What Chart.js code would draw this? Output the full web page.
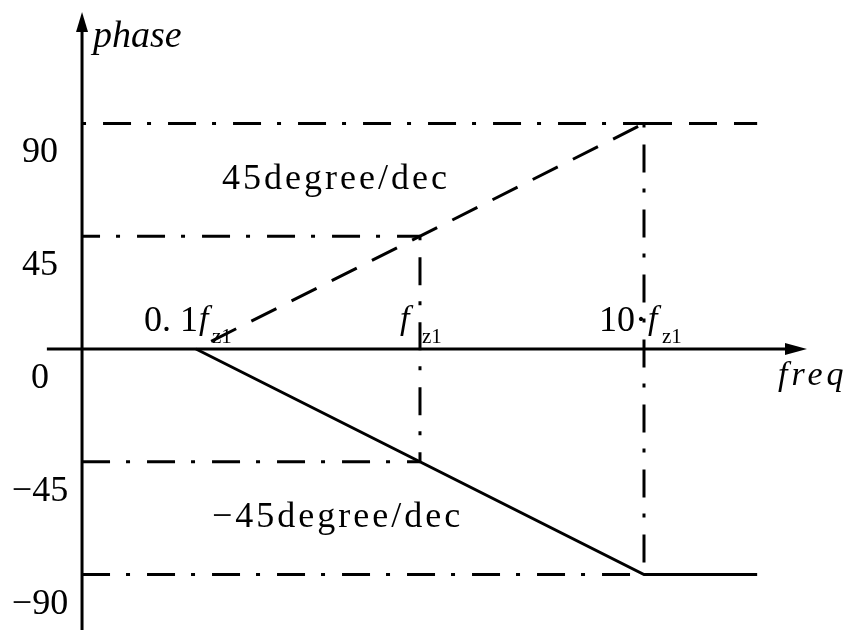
<!DOCTYPE html>
<html><head><meta charset="utf-8">
<script src="https://cdn.jsdelivr.net/npm/chart.js@4.4.0/dist/chart.umd.min.js"></script>
<style>html,body{margin:0;padding:0;background:#fff;}#wrap{width:857px;height:630px;position:relative;}</style>
</head><body><div id="wrap"><canvas id="c"></canvas></div>
<script>
// ---- data ----
const freqTicks = [0.1, 1, 10];                 // 0.1·fz1, fz1, 10·fz1
const freqTickPre = ['0. 1', '', '10·'];
const freqTickMain = ['f', 'f', 'f'];
const freqTickSub = ['z1', 'z1', 'z1'];
const phaseTicks = [90, 45, 0, -45, -90];
const phaseTickLabels = ['90', '45', '0', '−45', '−90'];
const freqStart = 0.031, freqEnd = 32;
const leadFreq = [0.1, 10, 32];
const leadPhase = [0, 90, 90];
const lagFreq = [0.1, 10, 32];
const lagPhase = [0, -90, -90];
const guideLevels = [90, 45, -45, -90];
const guideEndFreq = [10, 1, 1, 10];
const markerFreq = [1, 10];
const markerTop = [45, 90];
const markerBottom = [-45, -90];
const slopeLabels = ['45degree/dec', '−45degree/dec'];
const axisTitles = ['phase', 'freq'];

// ---- styling / layout ----
const INK = '#000';
const DASHDOT = [28, 16, 4, 17];
const guideOffsets = [44, 10, 0, 0];
const xAxisFrom = 0.0216, xAxisTip = 53.4, yAxisTip = 134.5;
const SERIF = '"Liberation Serif", "Times New Roman", serif';

const pts = (xs, ys) => xs.map((x, i) => ({x, y: ys[i]}));
const datasets = [];
guideLevels.forEach((lv, i) => datasets.push({
  data: [{x: freqStart, y: lv}, {x: guideEndFreq[i], y: lv}],
  borderColor: INK, borderWidth: 3, borderDash: DASHDOT, borderDashOffset: guideOffsets[i]
}));
markerFreq.forEach((f, i) => datasets.push({
  data: [{x: f, y: markerTop[i]}, {x: f, y: markerBottom[i]}],
  borderColor: INK, borderWidth: 3, borderDash: DASHDOT, borderDashOffset: 44
}));
datasets.push({
  data: pts(leadFreq, leadPhase), borderColor: INK, borderWidth: 3,
  borderDash: [28, 17],
  segment: {borderDashOffset: c => c.p0DataIndex === 0 ? 28 : 0}
});
datasets.push({data: pts(lagFreq, lagPhase), borderColor: INK, borderWidth: 3});
datasets.forEach(d => { d.showLine = true; d.pointRadius = 0; d.fill = false; d.tension = 0; });

const drawPlugin = {
  id: 'phaseDecor',
  afterDatasetsDraw(chart) {
    const ctx = chart.ctx, xs = chart.scales.x, ys = chart.scales.y;
    const X = v => xs.getPixelForValue(v), Y = v => ys.getPixelForValue(v);
    ctx.save();
    ctx.strokeStyle = INK; ctx.fillStyle = INK; ctx.lineWidth = 3; ctx.setLineDash([]);
    // axes
    const ax = X(freqStart), ay0 = Y(0);
    const xTip = X(xAxisTip), yTip = Y(yAxisTip);
    ctx.beginPath(); ctx.moveTo(X(xAxisFrom), ay0); ctx.lineTo(xTip - 14, ay0); ctx.stroke();
    ctx.beginPath(); ctx.moveTo(ax, chart.chartArea.bottom); ctx.lineTo(ax, yTip + 14); ctx.stroke();
    ctx.beginPath(); ctx.moveTo(xTip, ay0); ctx.lineTo(xTip - 22, ay0 - 6); ctx.lineTo(xTip - 22, ay0 + 6); ctx.closePath(); ctx.fill();
    ctx.beginPath(); ctx.moveTo(ax, yTip); ctx.lineTo(ax - 6, yTip + 20); ctx.lineTo(ax + 6, yTip + 20); ctx.closePath(); ctx.fill();

    // y tick labels
    ctx.font = '36px ' + SERIF; ctx.textAlign = 'center'; ctx.textBaseline = 'alphabetic';
    phaseTicks.forEach((v, i) => ctx.fillText(phaseTickLabels[i], 40, Y(v) + 39));

    // x tick labels: [pre right edge, f left, sub left] relative to tick pixel
    const lay = [[2, 3, 16], [0, -20, 2], [3, 4, 18]];
    freqTicks.forEach((f, i) => {
      const p = X(f), base = ay0 - 18;
      if (freqTickPre[i]) {
        ctx.font = '36px ' + SERIF; ctx.textAlign = 'right';
        ctx.fillText(freqTickPre[i], p + lay[i][0], base);
      }
      ctx.font = 'italic 34px ' + SERIF; ctx.textAlign = 'left';
      ctx.fillText(freqTickMain[i], p + lay[i][1], base - 2);
      ctx.font = '21px ' + SERIF;
      ctx.fillText(freqTickSub[i], p + lay[i][2], ay0 - 6);
    });

    // slope annotations
    ctx.font = '36px ' + SERIF; ctx.textAlign = 'left';
    try { ctx.letterSpacing = '3px'; } catch (e) {}
    ctx.fillText(slopeLabels[0], X(0.1) + 26, Y(90) + 66);
    ctx.fillText(slopeLabels[1], X(0.1) + 16, Y(-45) + 65);
    try { ctx.letterSpacing = '0px'; } catch (e) {}

    // axis titles
    ctx.font = 'italic 38px ' + SERIF;
    ctx.fillText(axisTitles[0], ax + 11, 47);
    try { ctx.letterSpacing = '4px'; } catch (e) {}
    ctx.font = 'italic 34px ' + SERIF;
    ctx.fillText(axisTitles[1], 778, ay0 + 36);
    try { ctx.letterSpacing = '0px'; } catch (e) {}
    ctx.restore();
  }
};

new Chart(document.getElementById('c'), {
  type: 'scatter',
  data: {datasets},
  options: {
    responsive: true, maintainAspectRatio: false, animation: false,
    layout: {padding: 0},
    plugins: {legend: {display: false}, tooltip: {enabled: false}},
    elements: {line: {borderCapStyle: 'butt'}},
    scales: {
      x: {type: 'logarithmic', display: false, bounds: 'data', min: 0.01334, max: 89.3},
      y: {type: 'linear', display: false, bounds: 'data', min: -112.15, max: 139.29}
    }
  },
  plugins: [drawPlugin]
});
</script>
</body></html>
